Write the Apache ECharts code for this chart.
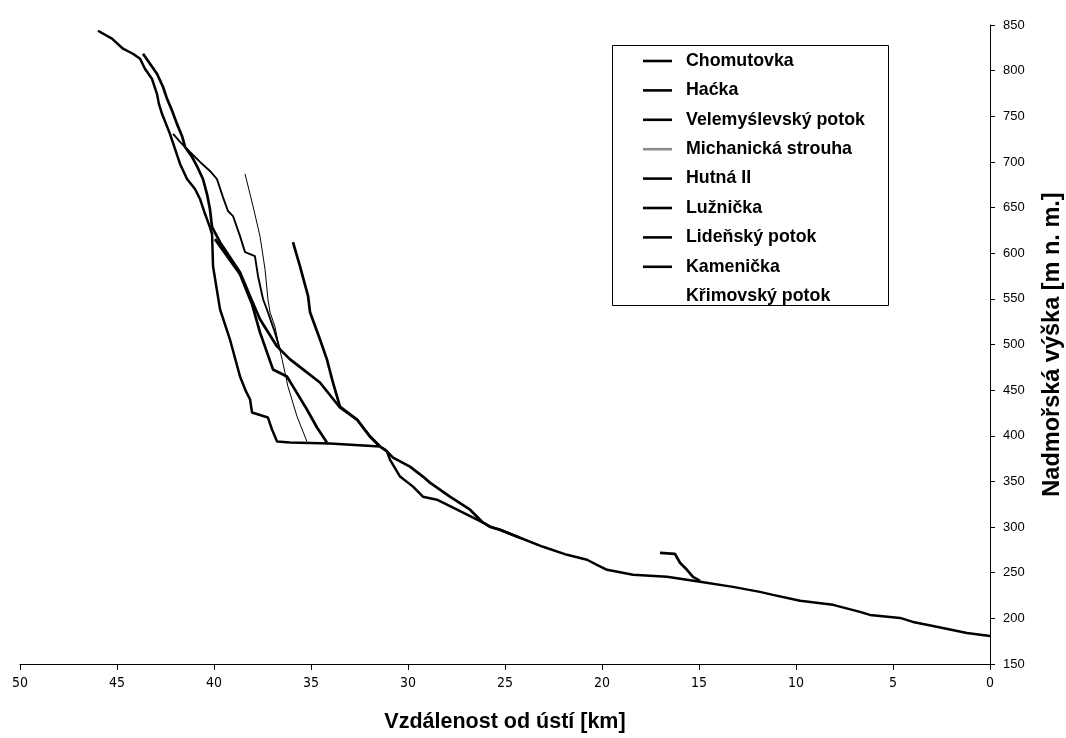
<!DOCTYPE html>
<html>
<head>
<meta charset="utf-8">
<script src="https://cdn.jsdelivr.net/npm/echarts@6/dist/echarts.min.js"></script>
<style>
html, body { margin: 0; padding: 0; background: #fff; }
#chart { width: 1066px; height: 738px; }
</style>
</head>
<body>
<div id="chart"></div>
<script>
// [vzdálenost od ústí km, nadmořská výška m]
var chomutovka = [[45.98, 843.7], [45.26, 835.0], [44.69, 824.0], [44.18, 818.5], [43.81, 813.0], [43.56, 802.0], [43.20, 791.1], [42.94, 774.6], [42.84, 763.6], [42.68, 752.7], [42.27, 730.7], [42.01, 714.2], [41.75, 697.8], [41.39, 681.3], [40.98, 670.3], [40.72, 659.4], [40.46, 642.9], [40.21, 628.6], [40.10, 620.9], [40.05, 585.8], [39.69, 538.6], [39.18, 505.7], [38.66, 465.0], [38.35, 448.6], [38.14, 439.8], [38.04, 425.5], [37.22, 420.0], [37.01, 406.9], [36.75, 393.7], [36.08, 392.6], [34.02, 391.5], [31.44, 388.2], [31.08, 382.7], [30.93, 373.9], [30.41, 355.3], [29.74, 344.3], [29.23, 333.3], [28.51, 330.0], [27.47, 319.0], [26.13, 304.8], [25.77, 300.4], [25.26, 297.1], [24.23, 288.3], [23.04, 278.4], [21.80, 269.6], [20.77, 264.2], [20.26, 258.7], [19.74, 253.2], [18.40, 247.7], [16.65, 245.5], [14.95, 240.0], [13.25, 234.5], [11.86, 229.0], [11.19, 225.7], [9.79, 219.2], [8.09, 214.8], [6.70, 207.1], [6.19, 203.8], [4.64, 200.5], [3.97, 196.1], [2.94, 191.7], [1.19, 184.0], [0, 180.7]];
var hacka = [[43.66, 818.5], [43.30, 807.5], [42.94, 796.6], [42.63, 782.3], [42.42, 769.1], [42.16, 756.0], [41.91, 741.7], [41.65, 728.5], [41.49, 716.4], [41.13, 705.4], [40.88, 695.5], [40.57, 681.3], [40.36, 664.8], [40.21, 648.4], [40.10, 628.6]];
var velemyslevsky = [[17.01, 271.8], [16.24, 270.7], [15.98, 260.9], [15.62, 253.2], [15.31, 245.5], [14.95, 241.1]];
var michanicka = [[38.40, 686.8], [37.99, 651.7], [37.63, 618.7], [37.37, 582.5], [37.22, 549.6], [37.11, 535.3], [36.86, 519.9], [36.70, 502.4], [36.49, 483.7], [36.19, 454.1], [35.72, 421.1], [35.21, 393.7]];
var hutna = [[35.93, 612.1], [35.57, 585.8], [35.15, 552.9], [35.05, 535.3], [34.54, 505.7], [34.18, 483.7], [33.87, 458.4], [33.51, 432.1], [32.63, 417.8], [31.96, 399.2], [31.44, 388.2]];
var luznicka = [[40.10, 628.6], [39.69, 612.1], [38.66, 579.2], [38.14, 552.9], [37.63, 527.6], [36.75, 497.9], [36.08, 483.7], [35.41, 472.7], [34.54, 458.4], [33.51, 431.0], [32.63, 417.8], [31.96, 399.2], [31.44, 388.2], [31.19, 384.9], [30.77, 376.1], [29.90, 366.2], [29.23, 355.3], [28.87, 348.7], [27.84, 333.3], [26.80, 319.0], [26.13, 304.8], [25.77, 300.4], [25.26, 297.1], [24.23, 288.3]];
var lidensky = [[42.11, 730.7], [41.75, 721.9], [41.24, 710.9], [40.72, 700.0], [40.21, 690.1], [39.85, 681.3], [39.54, 661.5], [39.28, 646.2], [39.02, 640.7], [38.66, 618.7], [38.40, 601.2], [37.89, 596.8], [37.73, 574.8], [37.47, 549.6], [37.22, 535.3], [36.86, 513.3], [36.60, 494.6]];
var kamenicka = [[39.95, 615.4], [38.66, 577.0], [38.04, 544.1], [37.63, 513.3], [36.96, 472.7], [36.24, 465.0], [35.93, 454.1], [35.21, 428.8], [34.69, 409.1], [34.18, 392.6]];
var krimovsky = [];

var names = ["Chomutovka", "Haćka", "Velemyślevský potok", "Michanická strouha", "Hutná II", "Lužnička", "Lideňský potok", "Kamenička", "Křimovský potok"];
var datasets = [chomutovka, hacka, velemyslevsky, michanicka, hutna, luznicka, lidensky, kamenicka, krimovsky];
var widths = [2.5, 2.7, 2.7, 1, 2.7, 2.7, 1.9, 2.7, 0];

var chart = echarts.init(document.getElementById("chart"));

var series = names.map(function (n, i) {
  return {
    name: n,
    type: "line",
    data: datasets[i],
    symbol: "none",
    smooth: false,
    lineStyle: { color: "#000", width: widths[i], opacity: widths[i] ? 1 : 0 },
    itemStyle: { color: "#000" },
    animation: false
  };
});

var option = {
  backgroundColor: "#fff",
  animation: false,
  grid: { left: 20, right: 76, top: 25, bottom: 74, containLabel: false, outerBoundsMode: "none" },
  //legenda
  legend: {
    orient: "vertical",
    left: 638,
    top: 47,
    icon: "rect",
    itemWidth: 29,
    itemHeight: 2.6,
    itemGap: 11.4,
    selectedMode: false,
    data: names.map(function (n, i) {
      if (i === 8) return { name: n, itemStyle: { opacity: 0 } };
      if (i === 3) return { name: n, itemStyle: { opacity: 0.45 } };
      return { name: n };
    }),
    textStyle: {
      color: "#000",
      fontSize: 17.8,
      lineHeight: 18,
      fontWeight: "bold",
      fontFamily: "Liberation Sans, Arial, sans-serif",
      padding: [0, 0, 0, 9]
    }
  },
  graphic: [
    {
      type: "rect",
      shape: { x: 612.5, y: 45.5, width: 276, height: 260 },
      style: { fill: "#fff", stroke: "#000", lineWidth: 1 },
      z: 1
    }
  ],
  //vodorovná osa
  xAxis: {
    type: "value",
    min: 0,
    max: 50,
    interval: 5,
    inverse: true,
    name: "Vzdálenost od ústí [km]",
    nameLocation: "middle",
    nameGap: 47,
    nameTextStyle: { color: "#000", fontSize: 21.5, fontWeight: "bold", fontFamily: "Liberation Sans, Arial, sans-serif" },
    axisLine: { onZero: false, lineStyle: { color: "#000", width: 1 } },
    axisTick: { show: true, length: 6, lineStyle: { color: "#000" } },
    axisLabel: { color: "#000", fontSize: 14, fontFamily: "DejaVu Sans Condensed, Liberation Sans, sans-serif", margin: 12 },
    splitLine: { show: false }
  },
  //svislá osa
  yAxis: {
    type: "value",
    position: "right",
    min: 150,
    max: 850,
    interval: 50,
    name: "Nadmořská výška [m n. m.]",
    nameLocation: "middle",
    nameRotate: 90,
    nameGap: 51,
    nameTextStyle: { color: "#000", fontSize: 23.5, fontWeight: "bold", fontFamily: "Liberation Sans, Arial, sans-serif" },
    axisLine: { show: true, lineStyle: { color: "#000", width: 1 } },
    axisTick: { show: true, length: 5, lineStyle: { color: "#000" } },
    axisLabel: { color: "#000", fontSize: 13, fontFamily: "Liberation Sans, Arial, sans-serif", margin: 13 },
    splitLine: { show: false }
  },
  series: series
};
chart.setOption(option);
</script>
</body>
</html>
